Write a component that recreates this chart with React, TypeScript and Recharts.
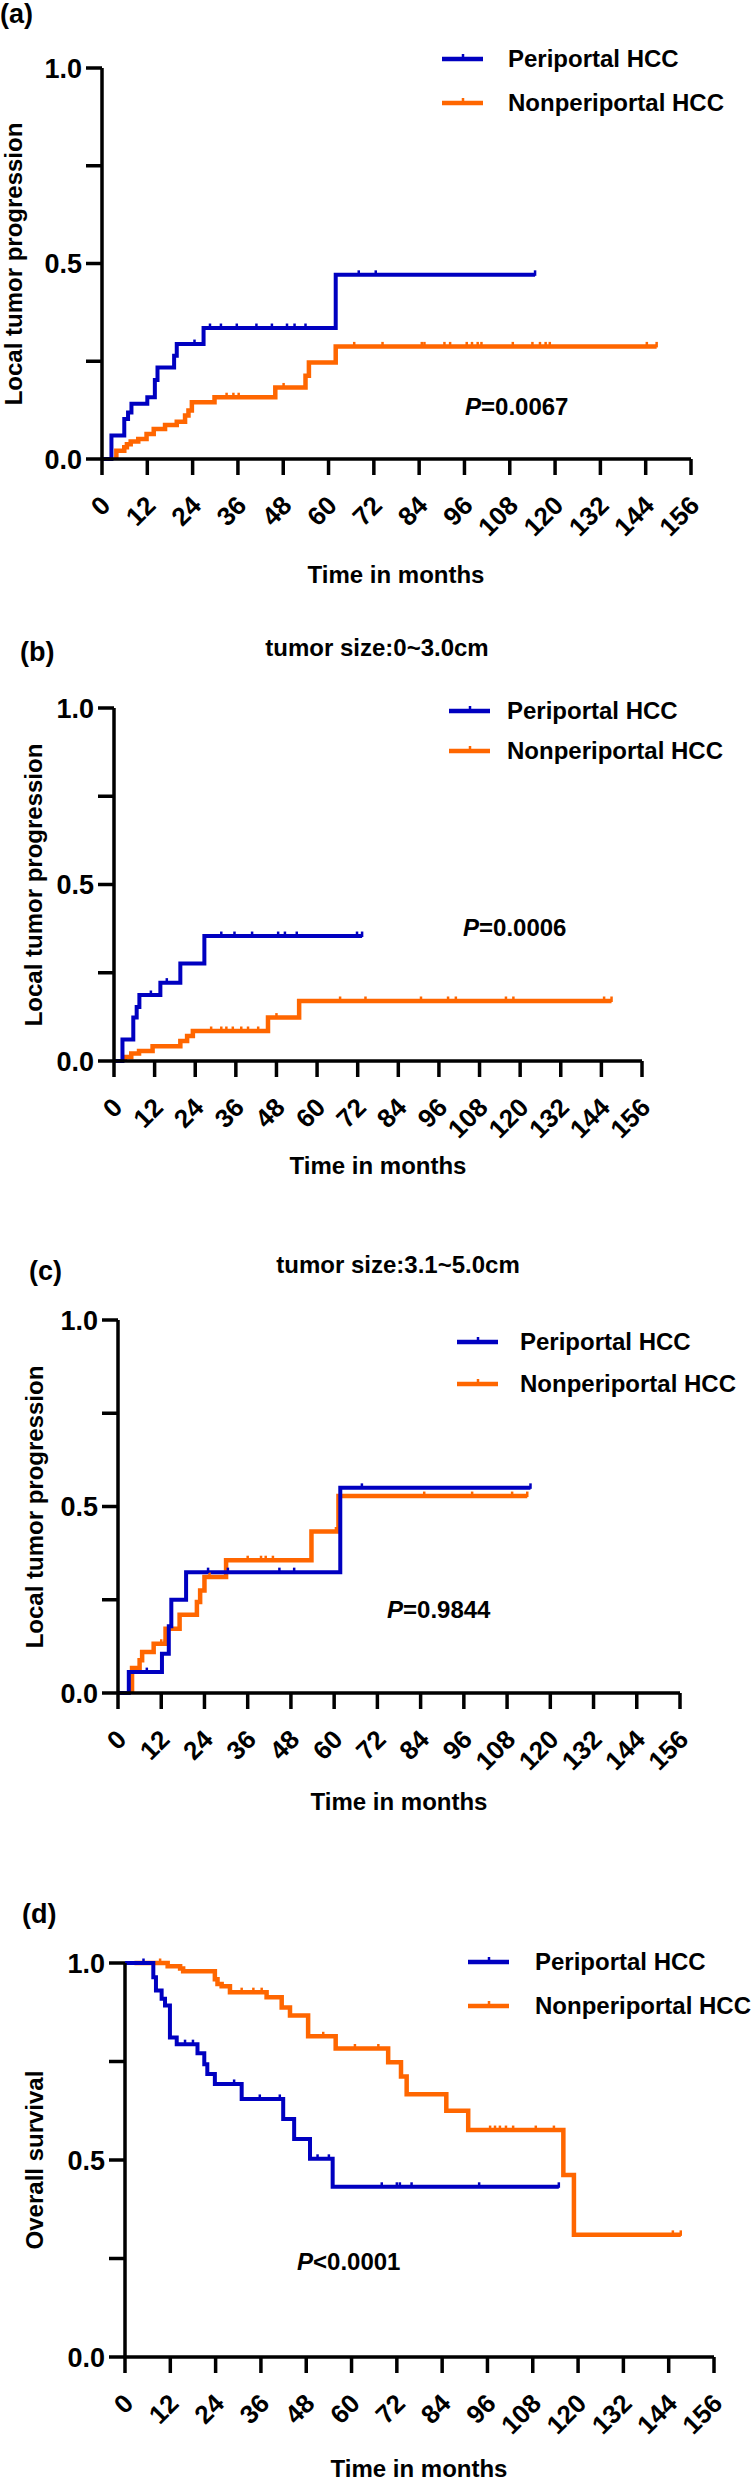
import React from "react"
import { ComposedChart, Line, XAxis, YAxis, Legend } from "recharts"

const MONTH_TICKS = [0, 12, 24, 36, 48, 60, 72, 84, 96, 108, 120, 132, 144, 156]
const PROB_TICKS = [0, 0.25, 0.5, 0.75, 1]
const SERIES_NAMES = ["Periportal HCC", "Nonperiportal HCC"]
const BLUE = "#0000c0"
const ORANGE = "#ff6600"
const FONT = '"Liberation Sans", Arial, Helvetica, sans-serif'

// (a) local tumor progression, all patients: [month, value] steps + censored months
const aPeriSteps = [[0, 0], [2.5, 0.06], [5.9, 0.102], [6.9, 0.119], [7.8, 0.141], [12.0, 0.158], [14.0, 0.202], [14.7, 0.234], [19.1, 0.264], [19.8, 0.294], [26.9, 0.335], [61.9, 0.471]]
const aPeriCensored = [24.5, 28.6, 31.5, 35.7, 40.9, 45, 49, 51, 53.9, 68, 72.5, 114.7]
const aNonSteps = [[3.8, 0], [3.8, 0.021], [5.9, 0.03], [6.6, 0.038], [7.6, 0.045], [9.6, 0.051], [11.8, 0.064], [13.7, 0.077], [16.7, 0.087], [19.8, 0.095], [22.0, 0.111], [22.9, 0.124], [23.8, 0.145], [29.8, 0.158], [45.9, 0.183], [53.9, 0.213], [54.8, 0.247], [61.9, 0.288]]
const aNonCensored = [33, 34.8, 36.2, 48.1, 66.8, 74.3, 84.7, 85.4, 90.7, 92.2, 96.6, 98, 99.5, 100.5, 108.8, 114, 116, 117.5, 118.6, 144.3, 146.9]

// (b) tumor size 0~3.0cm
const bPeriSteps = [[0, 0], [2.5, 0.061], [5.7, 0.123], [6.7, 0.153], [7.5, 0.187], [13.7, 0.222], [19.6, 0.276], [26.7, 0.354]]
const bPeriCensored = [10.9, 15.6, 31.7, 35.6, 40.8, 48.5, 50.5, 54, 71.8, 73.3]
const bNonSteps = [[3.2, 0], [3.2, 0.011], [5.1, 0.021], [7.4, 0.028], [11.4, 0.042], [19.6, 0.057], [21.6, 0.071], [23.3, 0.085], [45.5, 0.123], [54.7, 0.17]]
const bNonCensored = [28.7, 31.7, 33.2, 35.1, 37.6, 39.6, 42.6, 48, 66.8, 74.3, 90.7, 98.7, 101, 115.8, 118, 144.8, 147]

// (c) tumor size 3.1~5.0cm
const cPeriSteps = [[0, 0], [3.0, 0.056], [12.2, 0.105], [14.1, 0.179], [14.8, 0.25], [18.9, 0.324], [61.7, 0.55]]
const cPeriCensored = [8, 25, 30.5, 44.8, 48.9, 67.7, 114.5]
const cNonSteps = [[3.9, 0], [3.9, 0.067], [6.0, 0.088], [6.7, 0.11], [9.9, 0.132], [13.2, 0.172], [17.1, 0.21], [21.9, 0.244], [22.8, 0.275], [24, 0.311], [30, 0.356], [53.7, 0.433], [61.2, 0.528]]
const cNonCensored = [12, 13, 25.4, 36, 39.7, 41, 43, 60.5, 85, 98.3, 109.4, 113.6]

// (d) overall survival
const dPeriSteps = [[0, 1], [7.5, 0.964], [8.2, 0.93], [9.7, 0.909], [10.6, 0.892], [11.9, 0.811], [13.7, 0.794], [19.2, 0.771], [21, 0.743], [21.8, 0.718], [23.8, 0.693], [30.9, 0.655], [41.9, 0.604], [44.8, 0.553], [49, 0.503], [55, 0.432]]
const dPeriCensored = [4.9, 15.9, 18, 28.9, 35.7, 41, 51, 54, 68, 72, 72.8, 75.9, 93.8, 114.9]
const dNonSteps = [[2.5, 1], [11.3, 0.992], [14.6, 0.986], [15.4, 0.979], [23.8, 0.959], [24.5, 0.947], [25.6, 0.941], [27.8, 0.926], [37.5, 0.913], [41.5, 0.887], [43.7, 0.867], [48.5, 0.814], [55.8, 0.783], [69.7, 0.748], [73.1, 0.712], [74.6, 0.667], [85.1, 0.625], [90.9, 0.576], [116.1, 0.462], [118.9, 0.31]]
const dNonCensored = [9.3, 30.9, 34, 36.2, 52.5, 60.9, 67.1, 96.7, 98, 99.3, 100.9, 102.8, 108.8, 113.6, 145.1, 147.2]

type Pt = { t: number; v: number; c?: boolean }

// merge event steps with censor marks (censor sits on the current step value)
function buildCurve(steps: number[][], censored: number[]): Pt[] {
  const pts: Pt[] = steps.map(([t, v]) => ({ t, v }))
  censored.forEach((t) => {
    let v = steps[0][1]
    for (const [st, sv] of steps) if (st <= t) v = sv
    pts.push({ t, v, c: true })
  })
  return pts.sort((p, q) => p.t - q.t || (p.c ? 1 : 0) - (q.c ? 1 : 0))
}

const PAD = 70
const XAXIS_H = 90

const renderCensor = (props: any) => {
  const { cx, cy, payload, stroke, index } = props
  if (!payload || !payload.c) return <g key={index} />
  return <line key={index} x1={cx} x2={cx} y1={cy - 4.5} y2={cy + 1} stroke={stroke} strokeWidth={2.5} />
}

const XTick = ({ x, y, payload }: any) => (
  <g transform={`translate(${x + 10},${y + 32})`}>
    <text transform="rotate(-45)" textAnchor="end" fontSize={26} fontWeight="bold" fill="#000" fontFamily={FONT}>
      {payload.value}
    </text>
  </g>
)

interface PanelCfg {
  plotLeft: number
  plotRight: number
  plotTop: number
  plotBottom: number
  legendLeft: number
  legendTop: number
  rowH: number
  textLeft: number
}

function renderLegend(props: any, cfg: PanelCfg) {
  const items = [...(props.payload || [])].sort(
    (a: any, b: any) => SERIES_NAMES.indexOf(a.value) - SERIES_NAMES.indexOf(b.value)
  )
  return (
    <div style={{ fontFamily: FONT, fontWeight: 700, fontSize: 24 }}>
      {items.map((it: any) => (
        <div key={it.value} style={{ display: "flex", alignItems: "center", height: cfg.rowH, whiteSpace: "nowrap" }}>
          <svg width={cfg.textLeft - cfg.legendLeft} height={12} style={{ flex: "none" }}>
            <line x1={0} x2={41} y1={6} y2={6} stroke={it.color} strokeWidth={4.5} />
            <line x1={21} x2={21} y1={1} y2={6} stroke={it.color} strokeWidth={2.5} />
          </svg>
          <span style={{ color: "#000" }}>{it.value}</span>
        </div>
      ))}
    </div>
  )
}

interface PanelProps {
  cfg: PanelCfg
  peri: Pt[]
  non: Pt[]
}

function KMChart({ cfg, peri, non }: PanelProps) {
  const top = cfg.plotTop - PAD
  const height = PAD + (cfg.plotBottom - cfg.plotTop) + XAXIS_H
  const axisStyle = { stroke: "#000", strokeWidth: 3.5 }
  return (
    <div style={{ position: "absolute", left: 0, top }}>
      <ComposedChart width={752} height={height} margin={{ top: PAD, right: 752 - cfg.plotRight, bottom: 0, left: 0 }}>
        <XAxis
          type="number"
          dataKey="t"
          domain={[0, 156]}
          ticks={MONTH_TICKS}
          interval={0}
          allowDataOverflow
          tick={<XTick />}
          tickSize={16}
          tickMargin={0}
          height={XAXIS_H}
          axisLine={axisStyle}
          tickLine={axisStyle}
        />
        <YAxis
          type="number"
          domain={[0, 1]}
          ticks={PROB_TICKS}
          interval={0}
          width={cfg.plotLeft}
          tickSize={16}
          tickMargin={4}
          tickFormatter={(v: number) => (v === 0 || v === 0.5 || v === 1 ? v.toFixed(1) : "")}
          tick={{ fontSize: 27, fontWeight: "bold", fill: "#000", fontFamily: FONT }}
          axisLine={axisStyle}
          tickLine={axisStyle}
        />
        <Legend
          layout="horizontal"
          verticalAlign="middle"
          align="center"
          wrapperStyle={{ top: cfg.legendTop - top, left: cfg.legendLeft, width: 320 }}
          content={(p: any) => renderLegend(p, cfg)}
        />
        <Line
          data={non}
          dataKey="v"
          name="Nonperiportal HCC"
          type="stepAfter"
          stroke={ORANGE}
          strokeWidth={4.5}
          dot={renderCensor}
          activeDot={false}
          isAnimationActive={false}
        />
        <Line
          data={peri}
          dataKey="v"
          name="Periportal HCC"
          type="stepAfter"
          stroke={BLUE}
          strokeWidth={4}
          dot={renderCensor}
          activeDot={false}
          isAnimationActive={false}
        />
      </ComposedChart>
    </div>
  )
}

const txt = (style: React.CSSProperties, children: React.ReactNode, key: string) => (
  <div key={key} style={{ position: "absolute", whiteSpace: "nowrap", lineHeight: 1, ...style }}>
    {children}
  </div>
)

const panelA: PanelCfg = { plotLeft: 102, plotRight: 691, plotTop: 68, plotBottom: 459, legendLeft: 442, legendTop: 37, rowH: 44, textLeft: 508 }
const panelB: PanelCfg = { plotLeft: 114, plotRight: 642, plotTop: 708, plotBottom: 1061, legendLeft: 449, legendTop: 691, rowH: 40, textLeft: 507 }
const panelC: PanelCfg = { plotLeft: 118, plotRight: 680, plotTop: 1320, plotBottom: 1693, legendLeft: 457, legendTop: 1321, rowH: 42, textLeft: 520 }
const panelD: PanelCfg = { plotLeft: 125, plotRight: 714, plotTop: 1963, plotBottom: 2357, legendLeft: 468, legendTop: 1940, rowH: 44, textLeft: 535 }

export default function App() {
  const center = "translate(-50%, -50%)"
  const vertical = "translate(-50%, -50%) rotate(-90deg)"
  return (
    <div
      style={{
        position: "absolute",
        left: 0,
        top: 0,
        width: 752,
        height: 2481,
        overflow: "hidden",
        background: "#fff",
        fontFamily: FONT,
        fontWeight: 700,
        color: "#000",
      }}
    >
      <KMChart cfg={panelA} peri={buildCurve(aPeriSteps, aPeriCensored)} non={buildCurve(aNonSteps, aNonCensored)} />
      <KMChart cfg={panelB} peri={buildCurve(bPeriSteps, bPeriCensored)} non={buildCurve(bNonSteps, bNonCensored)} />
      <KMChart cfg={panelC} peri={buildCurve(cPeriSteps, cPeriCensored)} non={buildCurve(cNonSteps, cNonCensored)} />
      <KMChart cfg={panelD} peri={buildCurve(dPeriSteps, dPeriCensored)} non={buildCurve(dNonSteps, dNonCensored)} />

      {txt({ left: 0, top: 14, fontSize: 27, transform: "translateY(-50%)" }, "(a)", "la")}
      {txt({ left: 20, top: 652, fontSize: 27, transform: "translateY(-50%)" }, "(b)", "lb")}
      {txt({ left: 29, top: 1271, fontSize: 27, transform: "translateY(-50%)" }, "(c)", "lc")}
      {txt({ left: 22, top: 1914, fontSize: 27, transform: "translateY(-50%)" }, "(d)", "ld")}

      {txt({ left: 377, top: 648, fontSize: 24, transform: center }, "tumor size:0~3.0cm", "tb")}
      {txt({ left: 398, top: 1265, fontSize: 24, transform: center }, "tumor size:3.1~5.0cm", "tc")}

      {txt({ left: 14, top: 264, fontSize: 24, transform: vertical }, "Local tumor progression", "ya")}
      {txt({ left: 34, top: 885, fontSize: 24, transform: vertical }, "Local tumor progression", "yb")}
      {txt({ left: 35, top: 1507, fontSize: 24, transform: vertical }, "Local tumor progression", "yc")}
      {txt({ left: 35, top: 2160, fontSize: 24, transform: vertical }, "Overall survival", "yd")}

      {txt({ left: 396, top: 575, fontSize: 24, transform: center }, "Time in months", "xa")}
      {txt({ left: 378, top: 1166, fontSize: 24, transform: center }, "Time in months", "xb")}
      {txt({ left: 399, top: 1802, fontSize: 24, transform: center }, "Time in months", "xc")}
      {txt({ left: 419, top: 2469, fontSize: 24, transform: center }, "Time in months", "xd")}

      {txt({ left: 465, top: 407, fontSize: 24, transform: "translateY(-50%)" }, <><i>P</i>=0.0067</>, "pa")}
      {txt({ left: 463, top: 928, fontSize: 24, transform: "translateY(-50%)" }, <><i>P</i>=0.0006</>, "pb")}
      {txt({ left: 387, top: 1610, fontSize: 24, transform: "translateY(-50%)" }, <><i>P</i>=0.9844</>, "pc")}
      {txt({ left: 297, top: 2262, fontSize: 24, transform: "translateY(-50%)" }, <><i>P</i>&lt;0.0001</>, "pd")}
    </div>
  )
}
